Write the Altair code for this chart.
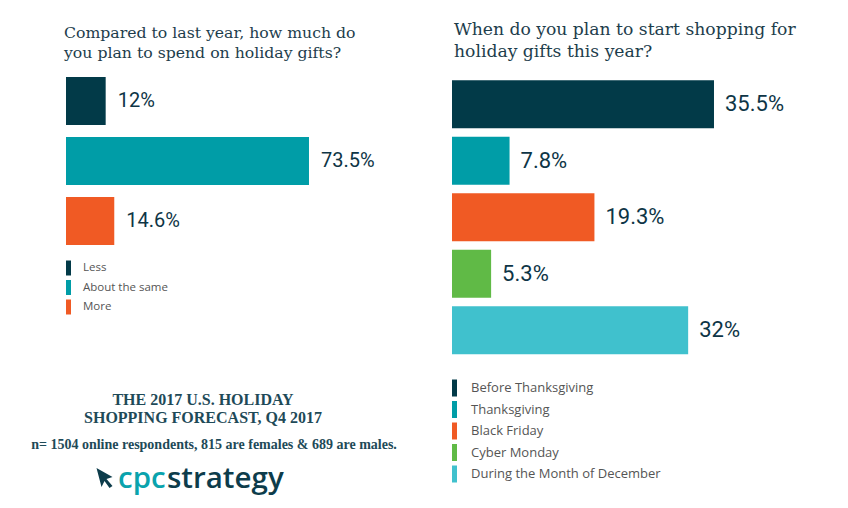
import altair as alt
import pandas as pd

# ---------------- data ----------------
spend_title = "Compared to last year, how much do\nyou plan to spend on holiday gifts?"
spend_categories = ["Less", "About the same", "More"]
spend_values = [12, 73.5, 14.6]
spend_labels = ["12%", "73.5%", "14.6%"]
spend_colors = ["#023a48", "#009da7", "#f05a24"]

start_title = "When do you plan to start shopping for\nholiday gifts this year?"
start_categories = ["Before Thanksgiving", "Thanksgiving", "Black Friday",
                    "Cyber Monday", "During the Month of December"]
start_values = [35.5, 7.8, 19.3, 5.3, 32]
start_labels = ["35.5%", "7.8%", "19.3%", "5.3%", "32%"]
start_colors = ["#023a48", "#009da7", "#f05a24", "#60ba46", "#40c1cd"]

footer_title = "THE 2017 U.S. HOLIDAY\nSHOPPING FORECAST, Q4 2017"
footer_note = "n= 1504 online respondents, 815 are females & 689 are males."
logo_parts = ["cpc", "strategy"]
logo_colors = ["#0aa3ad", "#0d3c4b"]

TEXT = "#0e3546"

spend_df = pd.DataFrame({"cat": spend_categories, "val": spend_values, "lab": spend_labels})
start_df = pd.DataFrame({"cat": start_categories, "val": start_values, "lab": start_labels})

# ---------------- scales ----------------
sx = alt.Scale(domain=[0, 100], range=[58, 388.6])
sy = alt.Scale(domain=spend_categories, range=[63, 243], paddingInner=0.2, paddingOuter=0.1)
sc = alt.Scale(domain=spend_categories, range=spend_colors)

tx = alt.Scale(domain=[0, 50], range=[444, 813])
ty = alt.Scale(domain=start_categories, range=[68, 350.5], paddingInner=0.15, paddingOuter=0.075)
tc = alt.Scale(domain=start_categories, range=start_colors)

sly = alt.Scale(type="point", domain=spend_categories, range=[260, 299], padding=0)
tly = alt.Scale(type="point", domain=start_categories, range=[380, 466], padding=0)

# ---------------- left panel ----------------
spend_bars = alt.Chart(spend_df).mark_bar().encode(
    x=alt.X("val:Q", scale=sx, axis=None),
    y=alt.Y("cat:N", scale=sy, axis=None, sort=spend_categories),
    color=alt.Color("cat:N", scale=sc, legend=None),
)
spend_text = alt.Chart(spend_df).mark_text(
    align="left", baseline="middle", dx=12, font="Roboto", fontSize=20,
    color=TEXT
).encode(
    x=alt.X("val:Q", scale=sx, axis=None),
    y=alt.Y("cat:N", scale=sy, axis=None, sort=spend_categories),
    text="lab:N",
)
spend_leg_sw = alt.Chart(spend_df).mark_tick(orient="vertical", thickness=5, size=15, opacity=1).encode(
    x=alt.value(60.5),
    y=alt.Y("cat:N", scale=sly, axis=None, sort=spend_categories),
    color=alt.Color("cat:N", scale=sc, legend=None),
)
spend_leg_tx = alt.Chart(spend_df).mark_text(
    align="left", baseline="middle", font="Open Sans", fontSize=11.5, color="#555555"
).encode(
    x=alt.value(75),
    y=alt.Y("cat:N", scale=sly, axis=None, sort=spend_categories),
    text="cat:N",
)
spend_ttl = alt.Chart(pd.DataFrame({"t": [spend_title]})).mark_text(
    align="left", baseline="alphabetic", font="DejaVu Serif", fontSize=15.7,
    lineBreak="\n", lineHeight=20, color="#1d3d4c"
).encode(x=alt.value(56), y=alt.value(30), text="t:N")

# ---------------- right panel ----------------
start_bars = alt.Chart(start_df).mark_bar().encode(
    x=alt.X("val:Q", scale=tx, axis=None),
    y=alt.Y("cat:N", scale=ty, axis=None, sort=start_categories),
    color=alt.Color("cat:N", scale=tc, legend=None),
)
start_text = alt.Chart(start_df).mark_text(
    align="left", baseline="middle", dx=11, font="Roboto", fontSize=22,
    color=TEXT
).encode(
    x=alt.X("val:Q", scale=tx, axis=None),
    y=alt.Y("cat:N", scale=ty, axis=None, sort=start_categories),
    text="lab:N",
)
start_leg_sw = alt.Chart(start_df).mark_tick(orient="vertical", thickness=5, size=17, opacity=1).encode(
    x=alt.value(446.5),
    y=alt.Y("cat:N", scale=tly, axis=None, sort=start_categories),
    color=alt.Color("cat:N", scale=tc, legend=None),
)
start_leg_tx = alt.Chart(start_df).mark_text(
    align="left", baseline="middle", font="Open Sans", fontSize=13, color="#555555"
).encode(
    x=alt.value(463),
    y=alt.Y("cat:N", scale=tly, axis=None, sort=start_categories),
    text="cat:N",
)
start_ttl = alt.Chart(pd.DataFrame({"t": [start_title]})).mark_text(
    align="left", baseline="alphabetic", font="DejaVu Serif", fontSize=17.2,
    lineBreak="\n", lineHeight=22, color="#1d3d4c"
).encode(x=alt.value(446), y=alt.value(27), text="t:N")

# ---------------- footer ----------------
foot1 = alt.Chart(pd.DataFrame({"t": [footer_title]})).mark_text(
    align="center", baseline="alphabetic", font="Liberation Serif", fontWeight="bold",
    fontSize=16, lineBreak="\n", lineHeight=18, color="#1e4a58"
).encode(x=alt.value(195), y=alt.value(397), text="t:N")
foot2 = alt.Chart(pd.DataFrame({"t": [footer_note]})).mark_text(
    align="center", baseline="alphabetic", font="Liberation Serif", fontWeight="bold",
    fontSize=14, color="#1e4a58"
).encode(x=alt.value(206), y=alt.value(441), text="t:N")

logo_cpc = alt.Chart(pd.DataFrame({"t": [logo_parts[0]]})).mark_text(
    align="left", baseline="alphabetic", font="Open Sans", fontSize=29.5, fontWeight=600,
    color=logo_colors[0]
).encode(x=alt.value(110), y=alt.value(480), text="t:N")
logo_str = alt.Chart(pd.DataFrame({"t": [logo_parts[1]]})).mark_text(
    align="left", baseline="alphabetic", font="Open Sans", fontSize=29.5, fontWeight=600,
    color=logo_colors[1]
).encode(x=alt.value(159), y=alt.value(480), text="t:N")
arrow_path = "M-0.8,-1 L0.8,-0.1 L0.2,0.1 L0.8,0.8 L0.5,1 L0,0.3 L-0.3,0.9 Z"
logo_arrow = alt.Chart(pd.DataFrame({"t": ["arrow"]})).mark_point(
    shape=arrow_path, filled=True, size=400, color=logo_colors[1], opacity=1
).encode(x=alt.value(96.5), y=alt.value(470))

chart = alt.layer(
    spend_bars, spend_text, spend_leg_sw, spend_leg_tx, spend_ttl,
    start_bars, start_text, start_leg_sw, start_leg_tx, start_ttl,
    foot1, foot2, logo_cpc, logo_str, logo_arrow,
).resolve_scale(x="independent", y="independent", color="independent").properties(
    width=832, height=492, autosize=alt.AutoSizeParams(type="none"), padding=0,
).configure_view(stroke=None)

chart.save("out.html", embed_options={"renderer": "svg", "actions": False})
